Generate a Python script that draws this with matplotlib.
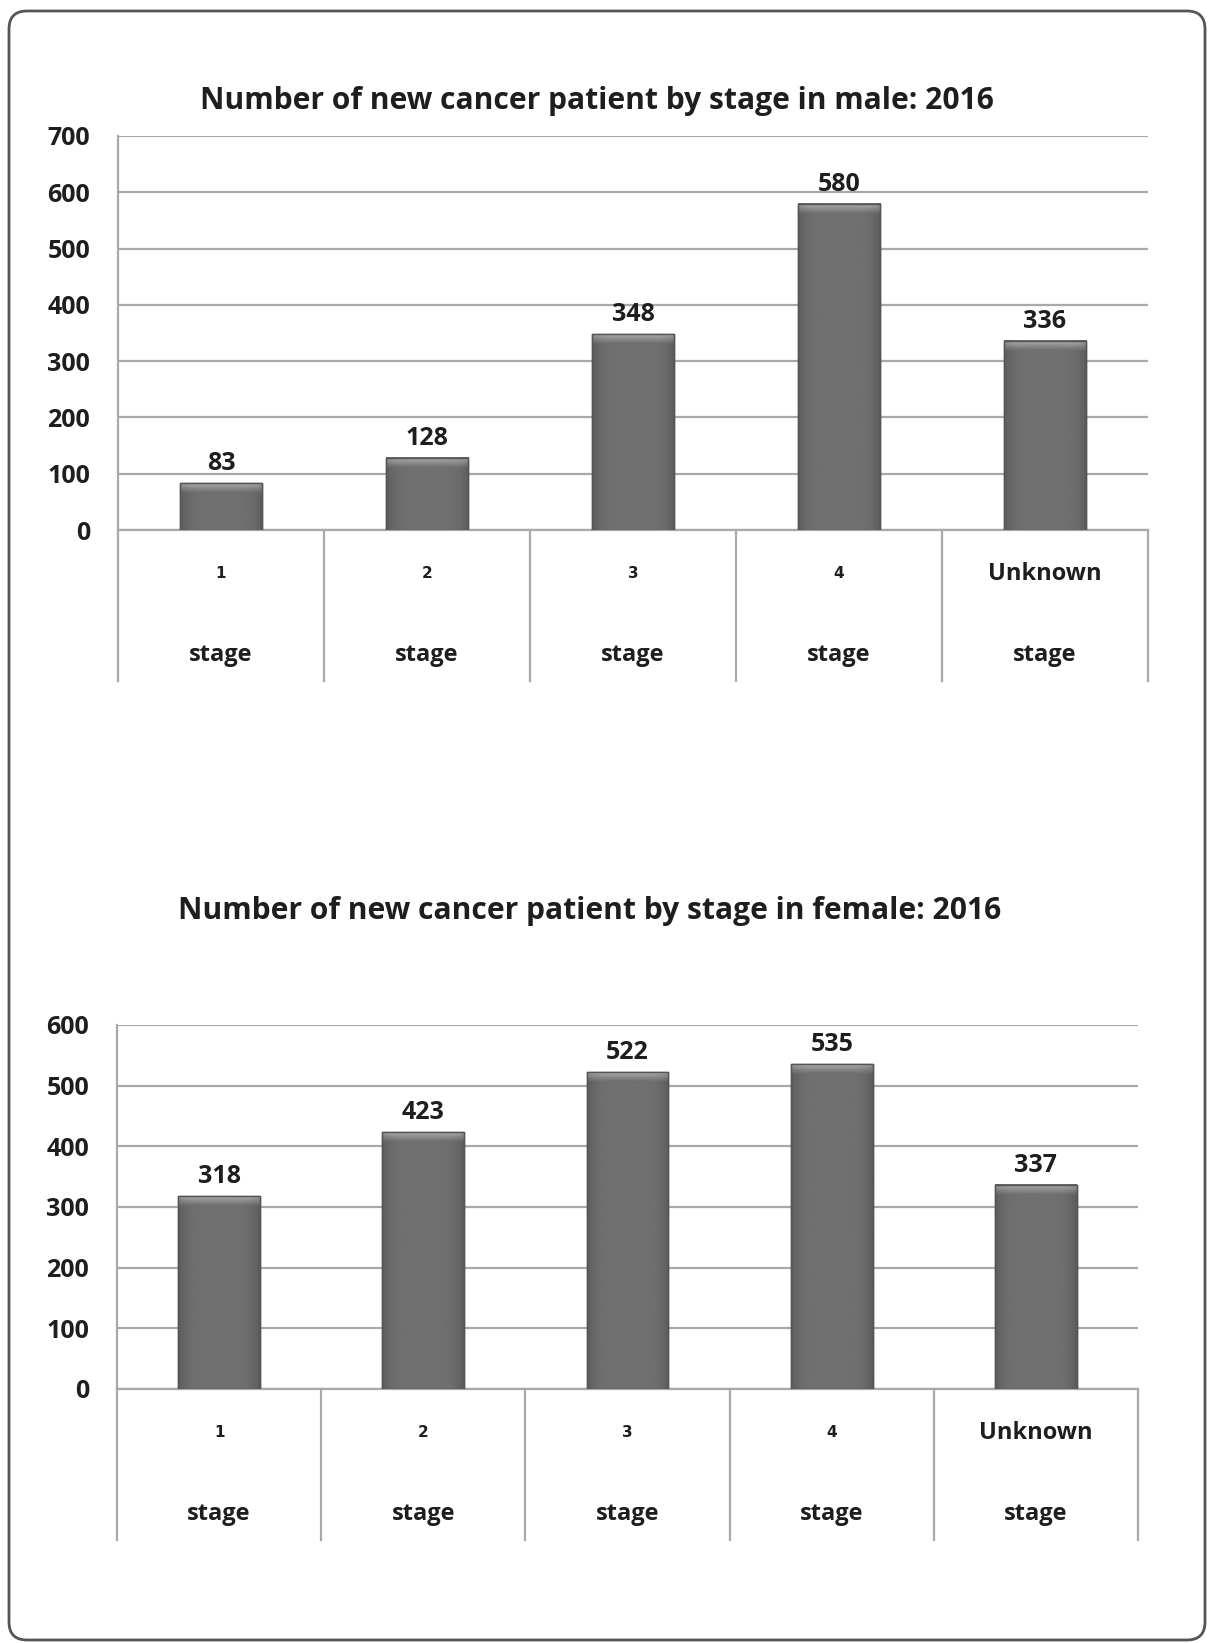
import numpy as np
import matplotlib
matplotlib.use("Agg")
import matplotlib.pyplot as plt
from matplotlib.patches import FancyBboxPatch

plt.rcParams['font.family'] = ['Open Sans', 'DejaVu Sans']
plt.rcParams['font.weight'] = 'bold'

# --- data ---------------------------------------------------------------------
stage_top = ["1", "2", "3", "4", "Unknown"]
stage_bottom = ["stage", "stage", "stage", "stage", "stage"]
male_counts = [83, 128, 348, 580, 336]
female_counts = [318, 423, 522, 535, 337]
male_title = "Number of new cancer patient by stage in male: 2016"
female_title = "Number of new cancer patient by stage in female: 2016"
male_yticks = [0, 100, 200, 300, 400, 500, 600, 700]
female_yticks = [0, 100, 200, 300, 400, 500, 600]

W, H = 1208, 1643
GRID = "#a9a9a9"
BAR = "#6b6c6e"
INK = "#1e1e1e"
FS = 18


def shaded_bars(ax, vals, width=0.4):
    """Bars with a soft horizontal gradient and a lighter bevel at the top."""
    x = np.arange(len(vals))
    ax.bar(x, vals, width, color=BAR, edgecolor="#505050", linewidth=1.0, zorder=3)
    ymin, ymax = ax.get_ylim()
    ppx = (ymax - ymin) / ax.get_window_extent().height   # data units per pixel
    t = np.linspace(-1, 1, 60)
    row = 0.36 + 0.08 * (1 - np.abs(t) ** 5)             # darker at the sides
    img = np.tile(row, (2, 1))
    for xi, v in zip(x, vals):
        x0, x1 = xi - width / 2, xi + width / 2
        ax.imshow(img, extent=[x0, x1, 0, v], cmap="gray", vmin=0, vmax=1,
                  aspect="auto", zorder=4, interpolation="bilinear")
        b = 10 * ppx
        bev = np.linspace(0.66, 0.43, 12)[:, None] * np.ones((1, 60))
        bev = bev * (0.88 + 0.12 * (1 - np.abs(t) ** 6))
        ax.imshow(bev, extent=[x0, x1, v - b, v], cmap="gray", vmin=0, vmax=1,
                  aspect="auto", zorder=5, interpolation="bilinear")
        ax.plot([x0, x1, x1, x0, x0], [0, 0, v, v, 0], color="#555555", lw=1.0, zorder=6)
        ax.annotate(f"{v}", (xi, v), xytext=(0, 5), textcoords="offset points",
                    ha="center", va="bottom", fontsize=FS, fontweight="bold",
                    color=INK, zorder=7)
    return x


def make_panel(fig, rect, vals, yticks, cell_depth):
    ax = fig.add_axes(rect)
    n = len(vals)
    ax.set_xlim(-0.5, n - 0.5)
    ax.set_ylim(0, yticks[-1])
    ax.set_yticks(yticks)
    ax.set_yticklabels([str(v) for v in yticks], fontsize=FS, fontweight="bold", color=INK)
    ax.tick_params(axis="y", length=0, pad=20)
    ax.set_xticks([])
    for s in ["top", "right"]:
        ax.spines[s].set_visible(False)
    for s in ["left", "bottom"]:
        ax.spines[s].set_color(GRID)
        ax.spines[s].set_linewidth(1.6)
    ax.yaxis.grid(True, color=GRID, linewidth=1.6, zorder=0)
    ax.set_axisbelow(True)
    shaded_bars(ax, vals)
    # category table below the axis
    tr = ax.get_xaxis_transform()
    for b in np.arange(n + 1) - 0.5:
        ax.plot([b, b], [0, -cell_depth], transform=tr, color=GRID, lw=1.6, clip_on=False)
    for xi, (a, s) in enumerate(zip(stage_top, stage_bottom)):
        if a == "Unknown":
            ax.annotate(a, (xi, 0), xycoords=tr, xytext=(0, -32), textcoords="offset points",
                        ha="center", va="center", fontsize=FS - 1, fontweight="bold", color=INK)
        else:
            ax.annotate(a, (xi, 0), xycoords=tr, xytext=(0, -31), textcoords="offset points",
                        ha="center", va="center", fontsize=11, fontweight="bold",
                        family="DejaVu Sans", color=INK)
        ax.annotate(s, (xi, 0), xycoords=tr, xytext=(0, -90), textcoords="offset points",
                    ha="center", va="center", fontsize=FS - 1, fontweight="bold", color=INK)
    return ax


fig = plt.figure(figsize=(W / 100, H / 100), dpi=100)

# rounded frame around the whole figure
bg = fig.add_axes([0, 0, 1, 1], zorder=-5)
bg.set_xlim(0, W)
bg.set_ylim(H, 0)
bg.axis("off")
bg.add_patch(FancyBboxPatch((9, 11), 1196, 1629, boxstyle="round,pad=0,rounding_size=18",
                            facecolor="white", edgecolor="#555555", linewidth=2))

make_panel(fig, [118 / W, 1 - 530 / H, 1030 / W, 394 / H], male_counts, male_yticks, 151 / 394)
make_panel(fig, [117 / W, 1 - 1389 / H, 1021 / W, 364 / H], female_counts, female_yticks, 151 / 364)

fig.text(597 / W, 1 - 101 / H, male_title, ha="center", va="center",
         fontsize=21.6, fontweight="bold", color=INK)
fig.text(590 / W, 1 - 911 / H, female_title, ha="center", va="center",
         fontsize=21.6, fontweight="bold", color=INK)

fig.savefig("out.png", dpi=100, facecolor="white")
